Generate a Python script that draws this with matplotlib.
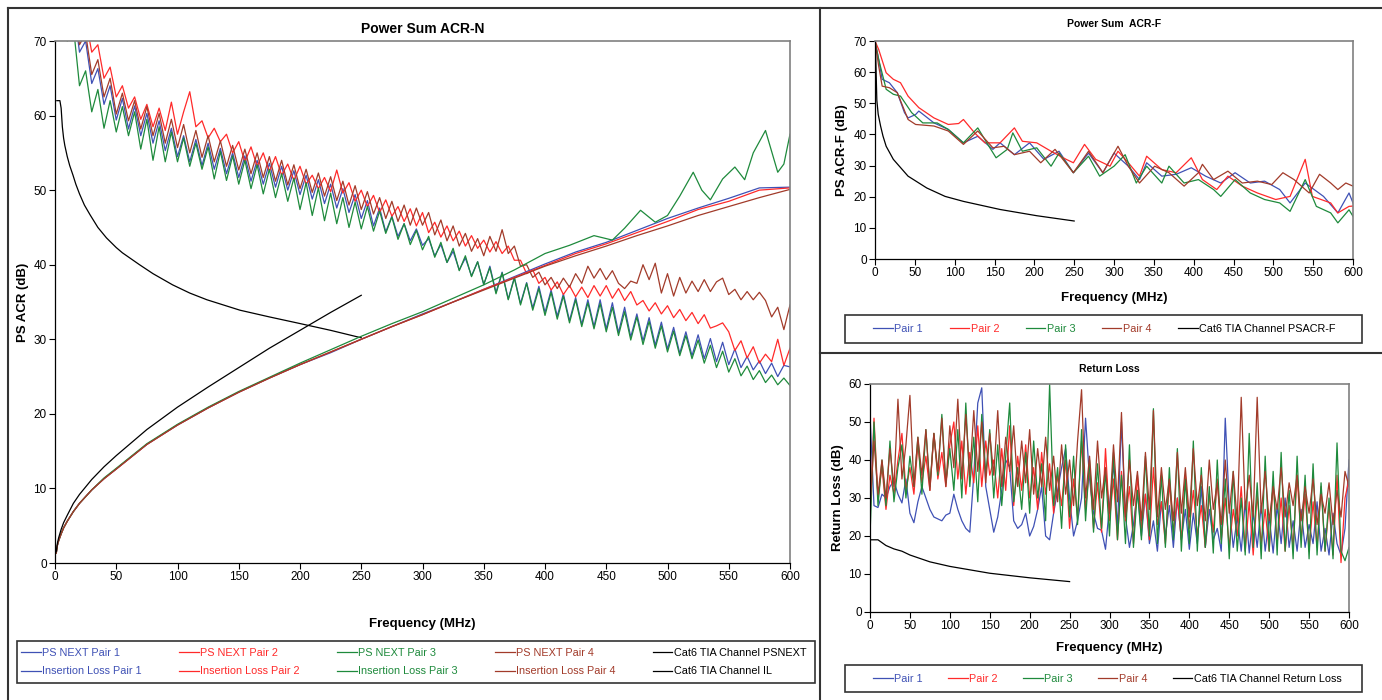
import numpy as np
import matplotlib.pyplot as plt
from matplotlib.lines import Line2D
from matplotlib.patches import Rectangle

plt.rcParams['font.family'] = ['Liberation Sans', 'DejaVu Sans']
plt.rcParams['lines.solid_joinstyle'] = 'round'

W, H = 1382, 700

blue = '#3F51B5'
red = '#FF2A2A'
green = '#1E8A3C'
brown = '#A23B2A'
black = '#000000'

# ---------------- Power Sum ACR-N (left) ----------------
freq_next = np.arange(5, 605, 5)

psnext_p1 = [81, 74, 75, 68.5, 70, 64.3, 66.3, 61.5, 64, 59.4,
             62.3, 58.2, 61.3, 57.3, 60.3, 56.3, 59.3, 55.3, 58.3, 54.5,
             57.3, 53.8, 56.8, 53.3, 56.3, 52.8, 55.6, 52.2, 55, 51.7,
             54.6, 51.2, 54, 50.8, 53.6, 50.4, 53.2, 50, 52.6, 49.4,
             52, 48.8, 51.4, 48.2, 50.8, 47.6, 50.2, 47, 49.4, 46.2,
             48.6, 45.2, 47.6, 44.4, 46.5, 43.8, 45.5, 43.2, 44.8, 42.6,
             43.5, 41.2, 42.7, 40.3, 41.8, 39.3, 40.9, 38.5, 40.4, 37.3,
             39.8, 36.3, 39, 35.4, 38.3, 34.8, 37.6, 34.2, 37.1, 33.6,
             36.6, 33.1, 36.1, 32.5, 35.6, 32, 35.3, 31.7, 35.3, 31.4,
             34.9, 30.9, 34.3, 30.3, 33.4, 29.8, 32.9, 29.2, 32.3, 28.7,
             31.6, 28.1, 31, 27.8, 30.6, 27.4, 30.1, 27, 29.6, 26.6,
             28.7, 26.2, 27.7, 25.9, 27.1, 25.4, 26.8, 25, 26.5, 26.3]

psnext_p2 = [84, 78, 77, 72, 73, 68.5, 69.5, 65, 66.5, 62.5,
             64, 61, 62.5, 59.5, 61.5, 58.5, 61, 58, 61.8, 57.5,
             60.5, 63.2, 58.5, 59.3, 57, 58.3, 56.5, 57.5, 55, 56.5,
             53.8, 55.8, 53.2, 55, 52.5, 54.5, 52, 53.5, 51.3, 53.2,
             50.8, 52, 50.2, 51.7, 49.8, 52.7, 49.6, 51, 48.5, 50,
             47.8, 49.3, 47, 48.7, 46.5, 47.8, 45.8, 47.5, 45.2, 47,
             44.3, 45.7, 43.7, 45.2, 43.2, 44.5, 42.5, 43.9, 42.2, 43.3,
             41.7, 43.1, 41.5, 42.5, 40.6, 40.6, 38.8, 39.3, 37.5, 38.3,
             36.6, 37.7, 36, 37.2, 35.7, 37, 35.6, 37.2, 35.8, 37.2,
             35.5, 36.8, 35.2, 36.4, 34.6, 35.2, 33.8, 34.9, 33.4, 34.5,
             32.9, 34, 32.5, 33.6, 32.1, 33.3, 31.5, 31.8, 32.2, 31,
             28.5, 29.8, 27.5, 29, 26.8, 28, 27, 30, 26.5, 28.8]

psnext_p3 = [78, 70, 72, 64, 66, 60.5, 63.5, 58.3, 62, 57.8,
             61.2, 57.3, 60.5, 55.5, 59.5, 54, 58.5, 53.8, 57.8, 53.8,
             57, 53.2, 56.3, 52.8, 55.8, 51.5, 55.2, 51.3, 54.6, 50.8,
             54, 50.2, 53.4, 49.5, 52.8, 49, 52.2, 48.5, 51.6, 47.4,
             51, 46.6, 50.3, 45.9, 49.6, 45.5, 49, 45, 48.4, 44.8,
             47.8, 44.5, 47.2, 44.2, 46.4, 43.4, 45.5, 42.7, 44.6, 42,
             43.8, 41, 43, 40.3, 42.2, 39.2, 41.2, 38.4, 40.4, 37.4,
             39.6, 36.1, 38.9, 35.3, 38.2, 34.6, 37.5, 33.9, 36.8, 33.2,
             36.3, 32.7, 35.8, 32.2, 35.3, 31.7, 34.9, 31.4, 34.8, 31,
             34.3, 30.5, 33.7, 29.9, 33, 29.3, 32.4, 28.8, 31.8, 28.3,
             31.1, 27.8, 30.5, 27.4, 29.9, 26.8, 29.2, 26.2, 28.4, 25.6,
             27.4, 25.1, 26.4, 24.6, 25.8, 24.2, 25.2, 23.9, 24.8, 23.8]

psnext_p4 = [82, 75, 75, 69.5, 71, 65.5, 67.5, 62.5, 65, 60.2,
             63, 59.3, 62, 58.2, 61.2, 57.3, 60.3, 56.3, 59.5, 55.7,
             58.8, 55, 58, 54.4, 57.3, 53.8, 56.6, 53.2, 56, 52.7,
             55.5, 52.2, 55, 51.7, 54.5, 51.2, 54, 50.7, 53.4, 50.2,
             52.8, 49.7, 52.3, 49.2, 51.8, 48.6, 51.2, 48, 50.6, 47.4,
             49.8, 46.8, 49, 46.2, 48.5, 45.8, 48, 45.3, 47.6, 45.3,
             47, 44, 46, 43.2, 45.2, 42.5, 44.2, 41.8, 43.5, 41.2,
             43.8, 41.8, 44.7, 41.5, 42.5, 39.8, 40, 38.3, 39, 37.3,
             38.3, 36.8, 38.2, 37, 38.8, 37.5, 39.8, 38.2, 39.5, 38,
             39.2, 37.5, 36.8, 37.8, 37.5, 40, 38, 40.2, 36.2, 38.8,
             35.8, 38.3, 36.2, 37.8, 36.4, 38, 36.4, 37.7, 38.2, 36,
             36.7, 35.3, 36.4, 35.3, 36.3, 35.2, 33, 34.3, 31.3, 34.6]

tia_psnext_f = [1.5, 4, 5, 6, 7, 8, 10, 12, 14.7, 17, 20, 24, 28.6, 35, 42, 50, 55, 69, 80, 96,
                110, 124, 151, 175, 197.5, 225, 250]
tia_psnext = [62, 62, 61, 58.5, 57, 56, 54.5, 53.3, 52, 50.8, 49.5, 48, 46.7, 45, 43.6, 42.3, 41.6, 40, 38.8, 37.3,
              36.2, 35.3, 33.9, 33, 32.2, 31.2, 30.2]

freq_il = [1, 2, 3, 5, 7, 10, 15, 20, 30, 40, 50, 75, 100, 125, 150, 175, 200, 225, 250,
           275, 300, 325, 350, 375, 400, 425, 450, 475, 500, 525, 550, 575, 600]
il_p1 = [1.3, 2.4, 3.0, 3.9, 4.7, 5.6, 6.9, 8.0, 9.8, 11.3, 12.6, 15.9, 18.5, 20.8, 22.9, 24.8, 26.6, 28.2, 30.0,
         31.7, 33.4, 35.0, 36.7, 38.4, 40.1, 41.7, 43.0, 44.6, 46.2, 47.6, 48.9, 50.3, 50.4]
il_p2 = [1.3, 2.4, 3.0, 3.9, 4.7, 5.6, 6.9, 8.0, 9.8, 11.3, 12.6, 15.9, 18.5, 20.8, 22.9, 24.8, 26.6, 28.3, 30.0,
         31.7, 33.3, 35.0, 36.7, 38.3, 39.9, 41.5, 42.8, 44.3, 45.8, 47.4, 48.5, 50.0, 50.3]
il_p4 = [1.3, 2.4, 3.0, 3.9, 4.7, 5.6, 6.9, 8.0, 9.8, 11.3, 12.6, 15.9, 18.5, 20.8, 22.9, 24.8, 26.6, 28.3, 30.0,
         31.7, 33.3, 35.0, 36.6, 38.2, 39.8, 41.2, 42.5, 43.9, 45.2, 46.6, 47.8, 49.0, 50.1]
freq_il3 = [1, 2, 3, 5, 7, 10, 15, 20, 30, 40, 50, 75, 100, 125, 150, 175, 200, 225, 250, 275, 300, 325, 350, 375,
            400, 420, 440, 455, 465, 478, 490, 500, 510, 521, 528, 535, 545, 555, 563, 570, 580, 590, 595, 600]
il_p3 = [1.3, 2.4, 3.0, 3.9, 4.7, 5.6, 6.9, 8.0, 9.8, 11.4, 12.7, 16.0, 18.6, 20.9, 23.0, 24.9, 26.8, 28.6, 30.4,
         32.1, 33.7, 35.5, 37.3, 39.3,
         41.5, 42.6, 43.9, 43.3, 44.9, 47.3, 45.7, 46.6, 49.2, 52.4, 50.0, 48.7, 51.5, 53.1, 51.4, 55.0, 58.0, 52.4, 53.5, 57.5]

tia_il_f = [1, 2, 3, 5, 7, 10, 15, 20, 30, 40, 50, 75, 100, 125, 150, 175, 200, 225, 250]
tia_il = [1.5, 2.7, 3.4, 4.5, 5.4, 6.4, 8.0, 9.2, 11.2, 12.9, 14.4, 17.9, 20.9, 23.6, 26.2, 28.8, 31.2, 33.6, 35.9]

# ---------------- Power Sum ACR-F (right top) ----------------
acrf_f1 = [0, 4.6, 9, 18, 28, 37, 41.5, 51, 55, 74, 92, 111, 129, 148, 157, 175, 194, 212, 231, 249,
           268, 286, 300, 318, 332, 341, 360, 378, 397, 415, 434, 452, 471, 489, 508, 521, 540, 563, 581, 595, 600]
acrf_p1 = [70, 64.1, 57.7, 56.6, 53.4, 47, 45.3, 46.4, 47.5, 43.7, 41.6, 37.3, 39.4, 35.2, 37.3, 33.5, 37.3, 32, 34.6, 27.7,
           34, 27.7, 34, 29.8, 25.5, 30.9, 26.6, 27.2, 29.3, 26.6, 24.4, 27.7, 24.4, 25, 22.3, 18, 24.4, 20.1, 14.8, 21.2, 18]
acrf_f2 = [0, 4.6, 14, 23, 32, 41.5, 55, 74, 92, 105, 111, 125, 138, 157, 175, 185, 203, 221, 240, 249,
           263, 277, 295, 305, 318, 332, 341, 360, 378, 397, 411, 429, 443, 461, 480, 503, 521, 540, 549, 572, 581, 595, 600]
acrf_p2 = [70, 67.3, 59.8, 57.7, 56.6, 52.3, 48.6, 45.3, 43.2, 43.5, 44.8, 40.5, 37.3, 37.3, 42.1, 37.8, 37.3, 34.6, 32, 30.9,
           36.8, 32, 29.8, 34.6, 30.9, 26.6, 33, 28.7, 27.7, 32.5, 25.5, 22.3, 26.6, 23.4, 21.2, 19.1, 20.1, 32, 20.1, 18, 14.8, 16.9, 17]
acrf_f3 = [0, 4.6, 14, 23, 32, 46, 60, 78, 92, 111, 129, 143, 152, 166, 173, 185, 203, 221, 231, 249,
           268, 282, 300, 314, 328, 341, 360, 369, 388, 406, 425, 434, 452, 471, 489, 508, 521, 540, 554, 572, 581, 595, 600]
acrf_p3 = [70, 64.1, 54.5, 52.9, 52.3, 47, 43.7, 43.7, 41.6, 37.3, 42.1, 36.2, 32.5, 35.2, 40.5, 34.6, 35.7, 29.8, 34, 27.7,
           33, 26.6, 29.8, 33.5, 24.4, 29.8, 24.4, 29.8, 24.4, 25.5, 22.3, 20.1, 25.5, 21.2, 19.1, 18, 15.3, 25.5, 16.9, 14.8, 11.6, 15.8, 13.7]
acrf_f4 = [0, 4.6, 9, 18, 28, 41.5, 51, 74, 92, 111, 129, 148, 162, 175, 194, 208, 226, 249, 268, 286,
           305, 318, 332, 351, 369, 388, 406, 411, 425, 443, 461, 480, 498, 512, 526, 545, 558, 572, 581, 591, 600]
acrf_p4 = [70, 62, 55.5, 55, 53.4, 44.8, 43.2, 42.7, 41.1, 36.8, 41.1, 35.7, 36.2, 33.5, 34.6, 30.9, 35.2, 27.7, 34.6, 27.7,
           36.2, 29.8, 24.4, 29.8, 27.7, 23.4, 27.7, 30.4, 25.5, 28.2, 24.4, 25, 23.9, 27.7, 25.5, 21.2, 27.2, 24.4, 22.3, 24.4, 23.4]
tia_acrf_f = [0.5, 1, 2.3, 4, 7, 10, 14, 23, 41.5, 65, 88, 111, 157, 203, 250]
tia_acrf = [70, 64, 51, 46.5, 42.7, 39.5, 36.2, 32, 26.6, 22.8, 20.1, 18.5, 15.9, 13.9, 12.2]

# ---------------- Return Loss (right bottom) ----------------
freq_rl = np.arange(0, 605, 5)
rl_p1 = [52, 28, 27.5, 31, 30, 33, 34.5, 31, 28.7, 35, 26,
         23.5, 29, 33, 30, 27, 25, 24.5, 24, 25.5, 26,
         31, 27, 24, 22, 21, 36, 55, 59, 33, 27,
         21, 25, 32, 40, 38, 24, 22, 23, 26, 20,
         22.5, 27, 33, 20, 19, 26, 32, 38, 43, 30,
         20, 24, 30, 51, 35, 26, 22, 21.5, 16.5, 28,
         39, 22, 50, 25, 17, 23, 32, 20, 31, 18,
         24, 16, 29, 20, 28, 17, 30, 19, 27, 16.5,
         26, 18, 33, 17, 27, 19, 22, 16, 51, 28,
         17, 25, 16, 29, 15.5, 26, 17, 28, 16, 25,
         15.5, 28, 18, 30, 17, 24, 16, 27, 17, 23,
         18, 29, 16, 22, 15, 26, 18, 15, 22, 40]
rl_p2 = [24, 51, 30, 38, 27, 36, 31, 40, 47, 32, 38,
         31, 44, 34, 41, 32, 47, 35, 42, 33, 44,
         50, 35, 45, 31, 42, 34, 49, 33, 45, 36,
         40, 30, 43, 32, 49, 28, 41, 32, 44, 30,
         38, 27, 42, 31, 39, 26, 36, 28, 40, 22,
         35, 25, 45, 27, 38, 22, 34, 21, 43, 24,
         35, 19, 37, 24, 33, 18, 36, 22, 31, 19,
         38, 23, 29, 18, 34, 21, 30, 19, 36, 22,
         32, 20, 28, 17, 31, 21, 35, 19, 30, 17,
         27, 20, 33, 16, 29, 15, 31, 18, 27, 16,
         34, 18, 30, 16, 28, 17, 36, 19, 31, 16,
         29, 17, 33, 16, 28, 15, 36, 13, 30, 35]
rl_p3 = [20, 50, 28, 40, 28, 45, 29, 38, 44, 30, 41,
         33, 46, 31, 48, 33, 47, 36, 52, 34, 43,
         32, 48, 30, 55, 33, 46, 29, 52, 36, 48,
         30, 44, 28, 41, 55, 29, 38, 27, 42, 26,
         45, 30, 39, 24, 60, 28, 38, 22, 44, 25,
         41, 23, 48, 24, 40, 21, 39, 22, 37, 20,
         42, 19, 36, 18, 44, 17, 32, 19, 41, 20,
         53.5, 18, 36, 17, 38, 19, 43, 16, 35, 18,
         45, 16, 38, 17, 33, 15.5, 40, 18, 35, 14,
         37, 16, 30, 15, 47, 17, 34, 14, 41, 16,
         37, 15, 42, 16, 32, 14, 41, 17, 36, 14,
         39, 15, 34, 16, 30, 14, 44.5, 16, 13.5, 17]
rl_p4 = [27, 45, 31, 40, 30, 43, 33, 56, 35, 44, 57,
         33, 46, 36, 48, 32, 47, 37, 51, 33, 49,
         38, 56, 35, 52, 36, 53, 37, 50, 34, 47,
         36, 53, 33, 46, 37, 49, 33, 45, 34, 48,
         31, 43, 33, 46, 32, 41, 29, 44, 31, 40,
         28, 45, 58.5, 30, 41, 27, 45, 30, 38, 26,
         44, 29, 52.5, 25, 40, 28, 37, 24, 42, 27,
         53, 25, 38, 27, 35, 24, 42, 26, 38, 25,
         43, 28, 36, 24, 40, 27, 34, 23, 40, 26,
         37, 24, 56.5, 27, 36, 25, 56.5, 26, 37, 24,
         33, 27, 38, 25, 34, 28, 36, 24, 33, 26,
         35, 23, 31, 26, 34, 23, 32, 25, 37, 33]
tia_rl_f = [1, 10, 20, 30, 40, 50, 75, 100, 150, 200, 250]
tia_rl = [19, 19, 17.5, 16.6, 16, 15, 13.2, 12, 10.2, 9, 8]


def box(x0, y0, x1, y1):
    return [x0 / W, 1 - y1 / H, (x1 - x0) / W, (y1 - y0) / H]


def style(ax, ymax):
    ax.set_xlim(0, 600)
    ax.set_ylim(0, ymax)
    ax.set_xticks(range(0, 601, 50))
    ax.set_yticks(range(0, ymax + 1, 10))
    for s in ['top', 'right']:
        ax.spines[s].set_color('#808080')
        ax.spines[s].set_linewidth(1.2)
    for s in ['left', 'bottom']:
        ax.spines[s].set_color('black')
        ax.spines[s].set_linewidth(0.9)
    ax.tick_params(direction='out', length=4, width=0.8, labelsize=8.5, pad=2)


def legend(fig, handles, labels, frame, content, ncol):
    # frame drawn separately so the entries can sit where they are in the original
    x0, y0, x1, y1 = frame
    fig.add_artist(Rectangle((x0 / W, 1 - y1 / H), (x1 - x0) / W, (y1 - y0) / H,
                             transform=fig.transFigure, fill=False, edgecolor='#333333', lw=1.2))
    leg = fig.legend(handles, labels, loc='center left',
                     bbox_to_anchor=box(content[0], y0, content[1], y1),
                     mode='expand', ncol=ncol, fontsize=7.8, frameon=False,
                     borderaxespad=0, borderpad=0.4,
                     handlelength=1.8, handletextpad=0.15, columnspacing=0.5, labelspacing=0.8)
    for t, h in zip(leg.get_texts(), leg.legend_handles):
        t.set_color(h.get_color())
    return leg


fig = plt.figure(figsize=(W / 100, H / 100), dpi=100)
lw = 0.9

# left panel
ax1 = fig.add_axes(box(55, 41, 790, 563))
n1, = ax1.plot(freq_next, psnext_p1, color=blue, lw=lw)
n2, = ax1.plot(freq_next, psnext_p2, color=red, lw=lw)
n3, = ax1.plot(freq_next, psnext_p3, color=green, lw=lw)
n4, = ax1.plot(freq_next, psnext_p4, color=brown, lw=lw)
tn, = ax1.plot(tia_psnext_f, tia_psnext, color=black, lw=lw)
i1, = ax1.plot(freq_il, il_p1, color=blue, lw=lw)
i2, = ax1.plot(freq_il, il_p2, color=red, lw=lw)
i3, = ax1.plot(freq_il3, il_p3, color=green, lw=lw)
i4, = ax1.plot(freq_il, il_p4, color=brown, lw=lw)
ti, = ax1.plot(tia_il_f, tia_il, color=black, lw=lw)
style(ax1, 70)
ax1.set_title('Power Sum ACR-N', fontsize=10, fontweight='bold', pad=6)
ax1.set_xlabel('Frequency (MHz)', fontsize=9.5, fontweight='bold', labelpad=25)
ax1.set_ylabel('PS ACR (dB)', fontsize=9.5, fontweight='bold', labelpad=3)

legend(fig, [n1, i1, n2, i2, n3, i3, n4, i4, tn, ti],
       ['PS NEXT Pair 1', 'Insertion Loss Pair 1', 'PS NEXT Pair 2', 'Insertion Loss Pair 2',
        'PS NEXT Pair 3', 'Insertion Loss Pair 3', 'PS NEXT Pair 4', 'Insertion Loss Pair 4',
        'Cat6 TIA Channel PSNEXT', 'Cat6 TIA Channel IL'],
       (17, 641, 815, 683), (17, 811), 5)

# right top panel
ax2 = fig.add_axes(box(875, 41, 1353, 259))
a1, = ax2.plot(acrf_f1, acrf_p1, color=blue, lw=lw)
a2, = ax2.plot(acrf_f2, acrf_p2, color=red, lw=lw)
a3, = ax2.plot(acrf_f3, acrf_p3, color=green, lw=lw)
a4, = ax2.plot(acrf_f4, acrf_p4, color=brown, lw=lw)
at, = ax2.plot(tia_acrf_f, tia_acrf, color=black, lw=lw)
style(ax2, 70)
ax2.set_title('Power Sum  ACR-F', fontsize=7.5, fontweight='bold', pad=10)
ax2.set_xlabel('Frequency (MHz)', fontsize=9.5, fontweight='bold', labelpad=9)
ax2.set_ylabel('PS ACR-F (dB)', fontsize=9.5, fontweight='bold', labelpad=4)
legend(fig, [a1, a2, a3, a4, at], ['Pair 1', 'Pair 2', 'Pair 3', 'Pair 4', 'Cat6 TIA Channel PSACR-F'],
       (845, 315, 1362, 343), (869, 1340), 5)

# right bottom panel
ax3 = fig.add_axes(box(870, 384, 1349, 612))
r1, = ax3.plot(freq_rl, rl_p1, color=blue, lw=lw)
r2, = ax3.plot(freq_rl, rl_p2, color=red, lw=lw)
r3, = ax3.plot(freq_rl, rl_p3, color=green, lw=lw)
r4, = ax3.plot(freq_rl, rl_p4, color=brown, lw=lw)
rt, = ax3.plot(tia_rl_f, tia_rl, color=black, lw=lw)
style(ax3, 60)
ax3.set_title('Return Loss', fontsize=7.5, fontweight='bold', pad=9)
ax3.set_xlabel('Frequency (MHz)', fontsize=9.5, fontweight='bold', labelpad=7)
ax3.set_ylabel('Return Loss (dB)', fontsize=9.5, fontweight='bold', labelpad=3)
legend(fig, [r1, r2, r3, r4, rt], ['Pair 1', 'Pair 2', 'Pair 3', 'Pair 4', 'Cat6 TIA Channel Return Loss'],
       (845, 665, 1362, 692), (869, 1346), 5)

# panel frames
for x0, y0, x1, y1 in [(8, 8, W, 8), (8, 8, 8, H), (820, 8, 820, H), (820, 353, W, 353)]:
    fig.add_artist(Line2D([x0 / W, x1 / W], [1 - y0 / H, 1 - y1 / H],
                          transform=fig.transFigure, color='#333333', lw=1.5))

fig.savefig('out.png', dpi=100)
